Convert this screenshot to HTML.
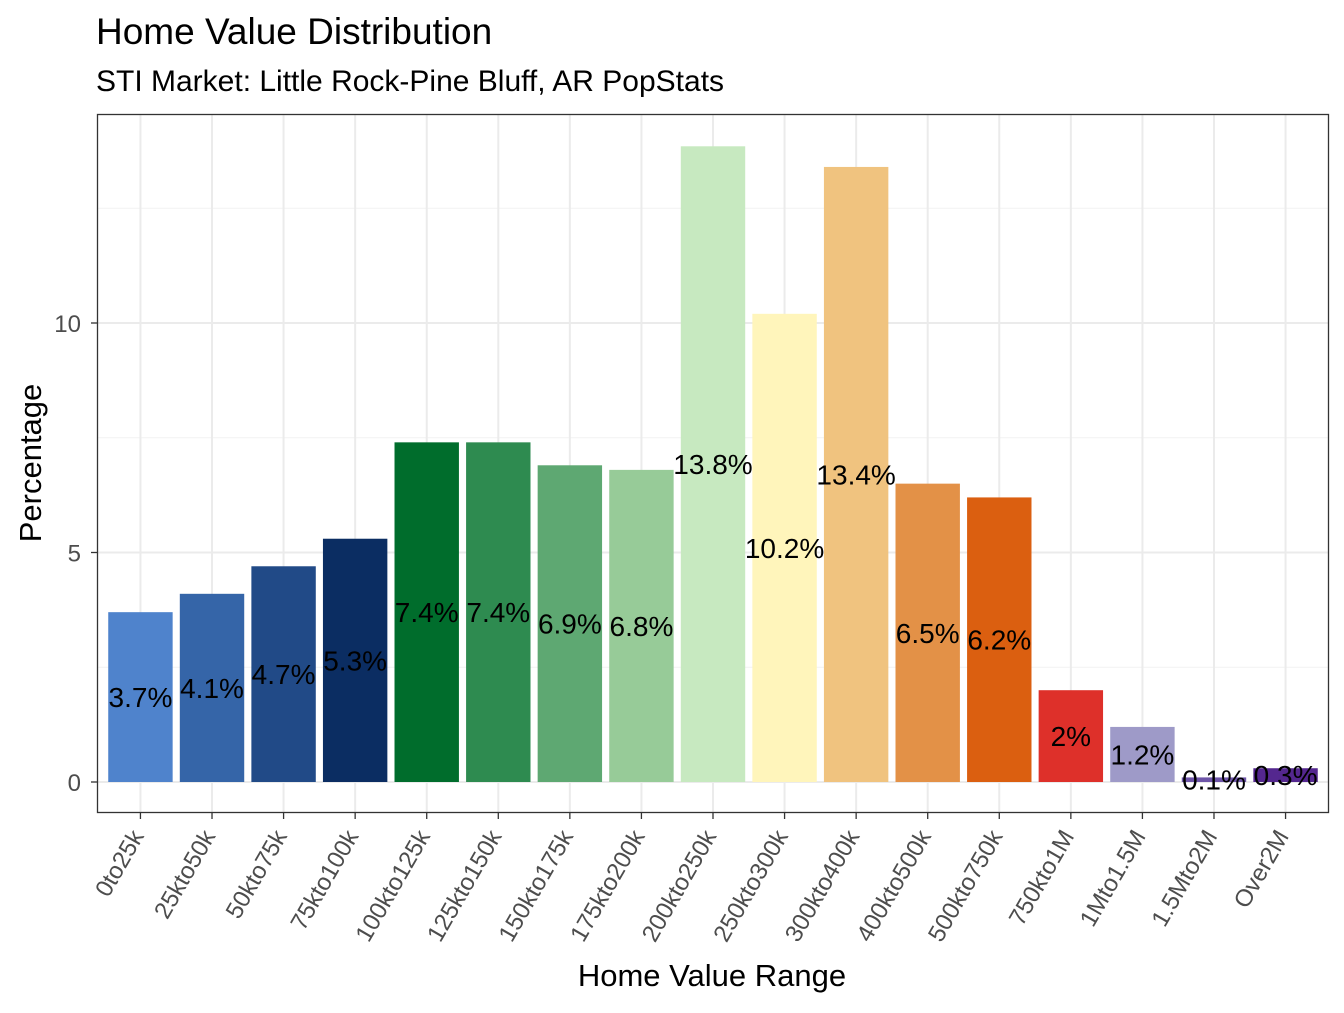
<!DOCTYPE html>
<html><head><meta charset="utf-8"><style>
body{margin:0;background:#fff}
svg text{font-family:"Liberation Sans",Arial,sans-serif}
</style></head><body>
<svg width="1344" height="1008" xmlns="http://www.w3.org/2000/svg">
<text x="96" y="44" font-size="37" fill="#000">Home Value Distribution</text>
<text x="96" y="91" font-size="30" fill="#000">STI Market: Little Rock-Pine Bluff, AR PopStats</text>
<g id="grid"></g>
<g id="bars"></g>
<g id="labels"></g>
<rect x="97.5" y="114.5" width="1231" height="698" fill="none" stroke="#333" stroke-width="1.3"/>
<g id="axes"></g>
<text x="712" y="986" font-size="31" text-anchor="middle">Home Value Range</text>
<text transform="translate(41,463) rotate(-90)" font-size="31" text-anchor="middle">Percentage</text>
</svg>
<script>
const categories=["0to25k","25kto50k","50kto75k","75kto100k","100kto125k","125kto150k","150kto175k","175kto200k","200kto250k","250kto300k","300kto400k","400kto500k","500kto750k","750kto1M","1Mto1.5M","1.5Mto2M","Over2M"];
const values=[3.7,4.1,4.7,5.3,7.4,7.4,6.9,6.8,13.85,10.2,13.4,6.5,6.2,2.0,1.2,0.1,0.3];
const valueLabels=["3.7%","4.1%","4.7%","5.3%","7.4%","7.4%","6.9%","6.8%","13.8%","10.2%","13.4%","6.5%","6.2%","2%","1.2%","0.1%","0.3%"];
const colors=["#4f83cc","#3565a8","#214a87","#0b2d62","#006d2c","#2e8b50","#5ea872","#97cb98","#c7e9c0","#fff5bb","#f0c37f","#e39147","#db5f10","#de302a","#9e9ac8","#6e55a8","#54278f"];
const yTicks=[0,5,10];
const yMinor=[2.5,7.5,12.5];
const NS="http://www.w3.org/2000/svg";
const x0=97.5,pw=1231,y0=782,ppu=45.9;
const step=pw/17.2;
const xs=i=>x0+step*(i+0.6);
const ys=v=>y0-v*ppu;
function mk(t,a,p){const e=document.createElementNS(NS,t);for(const k in a)e.setAttribute(k,a[k]);document.getElementById(p).appendChild(e);return e;}
mk("rect",{x:x0,y:114.5,width:pw,height:698,fill:"#fff"},"grid");
yMinor.forEach(v=>{const l=mk("line",{x1:x0,x2:x0+pw,y1:ys(v),y2:ys(v),stroke:"#f2f2f2","stroke-width":1},"grid");

});
yTicks.forEach(v=>{const l=mk("line",{x1:x0,x2:x0+pw,y1:ys(v),y2:ys(v),stroke:"#ebebeb","stroke-width":2},"grid");


const t=mk("text",{x:81,y:ys(v)+9,"font-size":"24",fill:"#4d4d4d","text-anchor":"end"},"axes");t.textContent=v;


mk("line",{x1:91,x2:97,y1:ys(v),y2:ys(v),stroke:"#333","stroke-width":1.3},"axes");});
categories.forEach((c,i)=>{const x=xs(i);
const g=mk("line",{x1:x,x2:x,y1:114.5,y2:812,stroke:"#ebebeb","stroke-width":2},"grid");


const bw=step*0.9;
const b=mk("rect",{x:x-bw/2,y:ys(values[i]),width:bw,height:values[i]*ppu,fill:colors[i]},"bars");


const lb=mk("text",{x:x,y:ys(values[i]/2)+10,"font-size":"28","text-anchor":"middle",fill:"#000"},"labels");lb.textContent=valueLabels[i];


mk("line",{x1:x,x2:x,y1:813,y2:819,stroke:"#333","stroke-width":1.3},"axes");
const t=mk("text",{transform:`translate(${x+4},${836}) rotate(-60)`,"font-size":"24",fill:"#4d4d4d","text-anchor":"end"},"axes");t.textContent=c;

});
</script>
</body></html>
